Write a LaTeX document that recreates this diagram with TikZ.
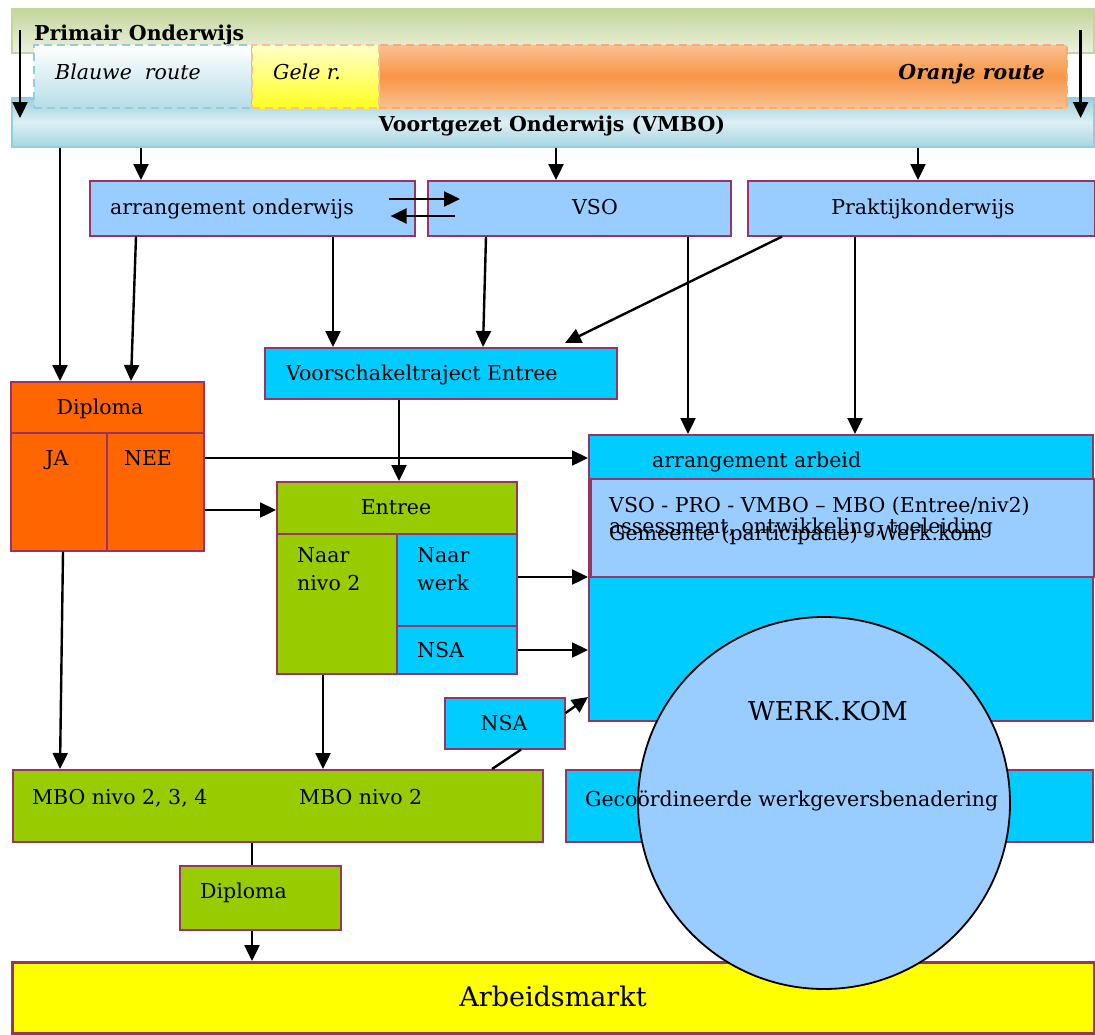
\documentclass[tikz,border=0pt]{standalone}
\usepackage{fontspec}
\setmainfont{DejaVu Serif}
\usetikzlibrary{arrows.meta,calc}
\definecolor{brd}{HTML}{993366}
\definecolor{lblue}{HTML}{99CCFF}
\definecolor{cyanb}{HTML}{00CCFF}
\definecolor{orng}{HTML}{FF6600}
\definecolor{grn}{HTML}{99CC00}
\definecolor{ylw}{HTML}{FFFF00}
\definecolor{pgA}{HTML}{C3D69B}
\definecolor{pgB}{HTML}{EBF1DE}
\definecolor{vbA}{HTML}{9BCFDD}
\definecolor{vbB}{HTML}{DCEFF4}
\definecolor{vbC}{HTML}{A6D6E3}
\definecolor{vbBrd}{HTML}{93CDDD}
\definecolor{blA}{HTML}{B6DDE8}
\definecolor{orA}{HTML}{FAC090}
\definecolor{orB}{HTML}{F79646}
\definecolor{yeA}{HTML}{FFFFC8}
\definecolor{yeB}{HTML}{FFFF20}
\newcommand{\fsz}{\fontsize{20.5}{28}\selectfont}
\tikzset{
  bx/.style={draw=brd, line width=1.6pt, inner sep=0pt, anchor=north west},
  tx/.style={inner sep=0pt, anchor=base west, font=\fsz},
  txc/.style={inner sep=0pt, anchor=base, font=\fsz},
  ar/.style={line width=2.4pt, -{Triangle[length=16pt,width=15pt]}},
  ln/.style={line width=2.4pt},
  rt/.style={line width=2pt, dash pattern=on 8pt off 5pt, inner sep=0pt, anchor=north west}
}
\begin{document}
\begin{tikzpicture}[x=1pt,y=-1pt]
\useasboundingbox[fill=white] (0,0) rectangle (1095,1034);
% top bands
\node[anchor=north west, inner sep=0pt, draw=pgA, line width=1.6pt, top color=pgA, bottom color=pgB, minimum width=1082pt, minimum height=44pt] (po) at (11,8) {};
\node[tx, font=\fsz\bfseries] (pot) at (34,40) {Primair Onderwijs};
\node[anchor=north west, inner sep=0pt, draw=vbBrd, line width=1.6pt, top color=vbA, bottom color=vbC, middle color=vbB, minimum width=1082pt, minimum height=49pt] (vo) at (11,97) {};
\node[txc, font=\fsz\bfseries] (vot) at (552,131) {Voortgezet Onderwijs (VMBO)};
% routes
\node[rt, draw=vbBrd, top color=white, bottom color=blA, minimum width=218pt, minimum height=63pt] (blr) at (33,44) {};
\node[rt, draw=orB!80, top color=orA, bottom color=orA, middle color=orB, minimum width=688pt, minimum height=63pt] (orr) at (378,44) {};
\node[rt, draw=orA, top color=yeA, bottom color=yeB, minimum width=127pt, minimum height=63pt] (ger) at (251,44) {};
\node[tx, font=\fsz\itshape] (blt) at (55,79) {Blauwe\ \ route};
\node[tx, font=\fsz\itshape] (get) at (273,79) {Gele r.};
\node[inner sep=0pt, anchor=base east, font=\fsz\bfseries\itshape] (ort) at (1045,79) {Oranje route};
\draw[ar] ([xshift=9pt,yshift=-22pt]po.north west) -- ([xshift=9pt,yshift=-21pt]vo.north west);
\draw[ar] ([xshift=-14pt,yshift=-22pt]po.north east) -- ([xshift=-14pt,yshift=-21pt]vo.north east);
% second row
\node[bx, fill=lblue, minimum width=325pt, minimum height=55pt] (aon) at (89,180) {};
\node[tx] (aont) at (110,214) {arrangement onderwijs};
\node[bx, fill=lblue, minimum width=303pt, minimum height=55pt] (vso) at (427,180) {};
\node[txc] (vsot) at (595,214) {VSO};
\node[bx, fill=lblue, minimum width=347pt, minimum height=55pt] (pro) at (747,180) {};
\node[txc] (prot) at (923,214) {Praktijkonderwijs};
\draw[ar] ([xshift=130pt]vo.south west) -- ([xshift=52pt]aon.north west);
\draw[ar] ([xshift=545pt]vo.south west) -- ([xshift=129pt]vso.north west);
\draw[ar] ([xshift=907pt]vo.south west) -- ([xshift=171pt]pro.north west);
\draw[ar] ([xshift=49pt]vo.south west) -- (60,381) coordinate (dipin);
\draw[ar] ([xshift=-27pt,yshift=-19pt]aon.north east) -- ([xshift=33pt,yshift=-19pt]vso.north west);
\draw[ar] ([xshift=28pt,yshift=-36pt]vso.north west) -- ([xshift=-25pt,yshift=-36pt]aon.north east);
% Voorschakeltraject
\node[bx, fill=cyanb, minimum width=352pt, minimum height=51pt] (vst) at (264,347) {};
\node[tx] (vstt) at (286,380) {Voorschakeltraject Entree};
% Diploma
\node[bx, fill=orng, minimum width=193pt, minimum height=51pt] (dip) at (10,381) {};
\node[txc] (dipt) at (100,414) {Diploma};
\node[bx, fill=orng, minimum width=96pt, minimum height=118pt] (ja) at (10,432) {};
\node[bx, fill=orng, minimum width=97pt, minimum height=118pt] (nee) at (106,432) {};
\node[txc] (jat) at (57,465) {JA};
\node[txc] (neet) at (148,465) {NEE};
% Entree
\node[bx, fill=grn, minimum width=240pt, minimum height=52pt] (ent) at (276,481) {};
\node[txc] (entt) at (396,514) {Entree};
\node[bx, fill=grn, minimum width=120pt, minimum height=140pt] (nn2) at (276,533) {};
\node[tx, align=left] (nn2t) at (297,590) {Naar\\nivo 2};
\node[bx, fill=cyanb, minimum width=120pt, minimum height=92pt] (nw) at (396,533) {};
\node[tx, align=left] (nwt) at (417,590) {Naar\\werk};
\node[bx, fill=cyanb, minimum width=120pt, minimum height=48pt] (nsa) at (396,625) {};
\node[tx] (nsat) at (417,657) {NSA};
% arrangement arbeid
\node[bx, fill=cyanb, minimum width=504pt, minimum height=286pt] (arb) at (588,434) {};
\node[tx] (arbt) at (652,467) {arrangement arbeid};
\node[bx, fill=lblue, minimum width=503pt, minimum height=98pt] (inr) at (590,478) {};
\node[tx] (inr1) at (609,512) {VSO - PRO - VMBO -- MBO (Entree/niv2)};
\node[tx] (inr2) at (609,533) {assessment, ontwikkeling, toeleiding};
\node[tx] (inr3) at (609,540) {Gemeente (participatie) - Werk.kom};
% NSA small
\node[bx, fill=cyanb, minimum width=120pt, minimum height=51pt] (nsb) at (444,697) {};
\node[txc] (nsbt) at (504,730) {NSA};
% MBO
\node[bx, fill=grn, minimum width=530pt, minimum height=72pt] (mbo) at (12,769) {};
\node[tx] (mbo1) at (32,804) {MBO nivo 2, 3, 4};
\node[tx] (mbo2) at (299,804) {MBO nivo 2};
% Geco
\node[bx, fill=cyanb, minimum width=527pt, minimum height=72pt] (gec) at (565,769) {};
% Diploma 2
\node[bx, fill=grn, minimum width=161pt, minimum height=64pt] (dp2) at (179,865) {};
\node[tx] (dp2t) at (200,898) {Diploma};
% Arbeidsmarkt
\node[bx, line width=3pt, fill=ylw, minimum width=1082pt, minimum height=71pt] (am) at (11,961) {};
\node[inner sep=0pt, anchor=base, font=\fontsize{27}{32}\selectfont] (amt) at (553,1006) {Arbeidsmarkt};
% connectors
\draw[ar] ([xshift=47pt]aon.south west) -- ([xshift=121pt]dip.north west);
\draw[ar] ([xshift=244pt]aon.south west) -- ([xshift=69pt]vst.north west);
\draw[ar] ([xshift=59pt]vso.south west) -- ([xshift=219pt]vst.north west);
\draw[ar] ([xshift=261pt]vso.south west) -- ([xshift=100pt]arb.north west);
\draw[ar] ([xshift=35pt]pro.south west) -- ([xshift=301pt,yshift=4pt]vst.north west);
\draw[ar] ([xshift=108pt]pro.south west) -- ([xshift=267pt]arb.north west);
\draw[ar] ([yshift=-26pt]nee.north east) -- ([yshift=-24pt]arb.north west);
\draw[ar] ([yshift=-78pt]nee.north east) -- ([yshift=-29pt]ent.north west);
\draw[ar] ([xshift=135pt]vst.south west) -- ([xshift=123pt]ent.north west);
\draw[ar] ([xshift=53pt]ja.south west) -- ([xshift=48pt]mbo.north west);
\draw[ar] ([xshift=47pt]nn2.south west) -- ([xshift=311pt]mbo.north west);
\draw[ar] ([yshift=-44pt]nw.north east) -- ([yshift=-143pt]arb.north west);
\draw[ar] ([yshift=-25pt]nsa.north east) -- ([yshift=-216pt]arb.north west);
\draw[ar] ([yshift=-16pt]nsb.north east) -- ([yshift=-263pt]arb.north west);
\draw[ln] ([xshift=480pt]mbo.north west) -- ([xshift=77pt]nsb.south west);
\draw[ln] ([xshift=240pt]mbo.south west) -- ([xshift=73pt]dp2.north west);
\draw[ar] ([xshift=73pt]dp2.south west) -- ([xshift=241pt]am.north west);
% circle
\node[circle, draw=black, line width=1.8pt, fill=lblue, minimum size=372pt, inner sep=0pt] (wk) at (824,803) {};
\node[inner sep=0pt, anchor=base, font=\fontsize{26}{30}\selectfont] (wkt) at (828,720) {WERK.KOM};
\node[tx] (gect) at (585,806) {Gecoördineerde werkgeversbenadering};
\end{tikzpicture}
\end{document}
